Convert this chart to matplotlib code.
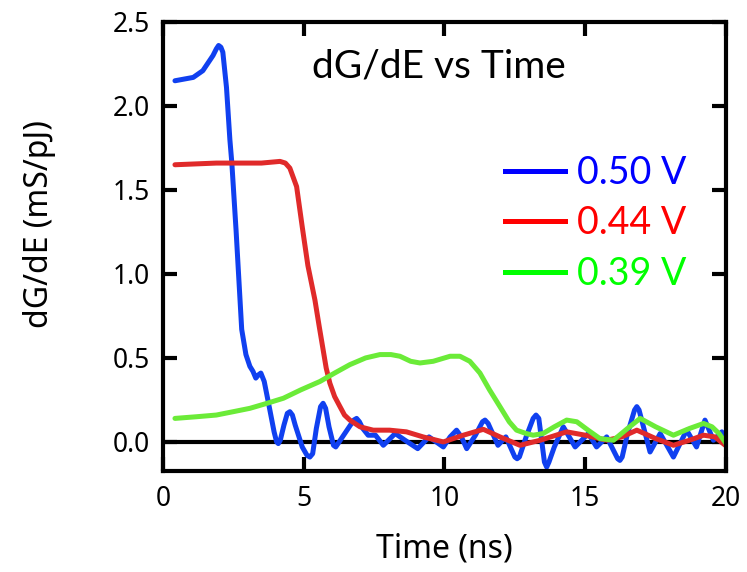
import matplotlib.pyplot as plt
from matplotlib.lines import Line2D

# values
t_050 = [0.43, 1.08, 1.42, 1.78, 1.9, 1.98, 2.06, 2.13, 2.26, 2.38, 2.45, 2.6, 2.8, 2.95,
         3.09, 3.2, 3.3, 3.4, 3.48, 3.6, 3.8, 3.95, 4.04, 4.1, 4.17, 4.3, 4.42, 4.51, 4.6,
         4.7, 4.95, 5.12, 5.22, 5.32, 5.45, 5.6, 5.69, 5.78, 5.9, 6.06, 6.14, 6.22, 6.5,
         6.78, 6.88, 6.98, 7.1, 7.29, 7.55, 7.83, 8.25, 8.6, 9.05, 9.45, 9.96, 10.2, 10.43,
         10.6, 10.79, 11.1, 11.35, 11.44, 11.55, 11.9, 12.18, 12.5, 12.58, 12.66, 12.9,
         13.15, 13.25, 13.35, 13.55, 13.63, 13.71, 13.9, 14.22, 14.64, 15.11, 15.4, 15.76,
         16.15, 16.23, 16.31, 16.5, 16.75, 16.83, 16.91, 17.3, 17.66, 18.13, 18.6, 18.95,
         19.25, 19.55, 19.85, 20.0]
v_050 = [2.15, 2.17, 2.21, 2.30, 2.34, 2.36, 2.35, 2.32, 2.11, 1.80, 1.66, 1.26, 0.67, 0.52,
         0.45, 0.42, 0.38, 0.40, 0.41, 0.36, 0.19, 0.06, 0.0, -0.01, 0.01, 0.10, 0.17, 0.18,
         0.16, 0.10, -0.03, -0.08, -0.09, -0.07, 0.08, 0.21, 0.23, 0.20, 0.09, -0.02, -0.03,
         -0.01, 0.06, 0.13, 0.14, 0.12, 0.08, 0.04, 0.04, -0.02, 0.05, 0.01, -0.04, 0.03,
         -0.03, 0.03, 0.07, 0.03, -0.04, 0.04, 0.12, 0.13, 0.11, -0.02, 0.03, -0.09, -0.10,
         -0.09, 0.03, 0.14, 0.16, 0.14, -0.12, -0.15, -0.12, -0.03, 0.09, -0.03, 0.05,
         -0.03, 0.03, -0.10, -0.11, -0.09, 0.05, 0.19, 0.21, 0.19, -0.06, 0.05, -0.09, 0.07,
         -0.03, 0.13, 0.01, 0.06, 0.0]

t_044 = [0.43, 1.9, 3.5, 4.16, 4.35, 4.51, 4.75, 4.95, 5.15, 5.4, 5.55, 5.69, 5.8, 5.93,
         6.1, 6.29, 6.45, 6.64, 7.0, 7.47, 8.05, 8.65, 9.24, 9.96, 10.67, 11.38, 11.97,
         12.68, 13.4, 14.34, 15.0, 15.76, 16.3, 16.83, 17.5, 18.13, 18.7, 19.2, 19.6, 19.97]
v_044 = [1.65, 1.66, 1.66, 1.67, 1.66, 1.63, 1.52, 1.28, 1.05, 0.845, 0.69, 0.55, 0.44, 0.35,
         0.27, 0.21, 0.16, 0.13, 0.09, 0.07, 0.07, 0.06, 0.03, 0.0, 0.04, 0.075, 0.03,
         -0.02, 0.01, 0.06, 0.04, 0.01, 0.03, 0.07, 0.02, -0.02, 0.01, 0.04, 0.03, -0.02]

t_039 = [0.43, 1.2, 1.9, 2.5, 3.09, 3.7, 4.28, 4.9, 5.58, 6.1, 6.64, 7.2, 7.71, 8.1, 8.42,
         8.8, 9.13, 9.6, 10.2, 10.55, 10.9, 11.26, 11.6, 11.97, 12.3, 12.56, 12.9, 13.15,
         13.5, 13.9, 14.34, 14.7, 15.1, 15.52, 16.0, 16.5, 16.95, 17.5, 18.13, 18.7, 19.2,
         19.5, 19.75, 20.0]
v_039 = [0.14, 0.15, 0.16, 0.18, 0.20, 0.23, 0.26, 0.31, 0.36, 0.41, 0.46, 0.50, 0.52, 0.52,
         0.51, 0.48, 0.47, 0.48, 0.51, 0.51, 0.48, 0.41, 0.31, 0.21, 0.12, 0.07, 0.05, 0.04,
         0.05, 0.09, 0.13, 0.12, 0.07, 0.02, 0.01, 0.08, 0.14, 0.09, 0.04, 0.08, 0.11,
         0.09, 0.05, -0.01]

labels = ['0.50 V', '0.44 V', '0.39 V']
line_colors = ['#1040F0', '#E02A2A', '#6BEB38']
legend_colors = ['#0000FF', '#FF0000', '#00FF00']
x_ticks = [0, 5, 10, 15, 20]
y_ticks = [0.0, 0.5, 1.0, 1.5, 2.0, 2.5]

fig = plt.figure(figsize=(7.47, 5.72), dpi=100)
ax = fig.add_axes([0.218, 0.1766, 0.754, 0.785])

ax.axhline(0, color='black', lw=3, zorder=1)
for t, v, c in zip([t_050, t_044, t_039], [v_050, v_044, v_039], line_colors):
    ax.plot(t, v, color=c, lw=3.6, solid_joinstyle='round', solid_capstyle='round', zorder=2)

ax.set_xlim(0, 20)
ax.set_ylim(-0.173, 2.5)
ax.set_xticks(x_ticks)
ax.set_yticks(y_ticks)
ax.set_yticklabels([f'{y:.1f}' for y in y_ticks])
ax.tick_params(direction='in', length=10, width=3, top=True, right=True,
               labelsize=19, pad=9)
ax.tick_params(axis='x', pad=10)
for lab in ax.get_xticklabels() + ax.get_yticklabels():
    lab.set_fontfamily('Noto Sans')
for s in ax.spines.values():
    s.set_linewidth(3)

ax.set_xlabel('Time (ns)', fontsize=23, family='Noto Sans', labelpad=14)
ax.set_ylabel('dG/dE (mS/pJ)', fontsize=23, family='Noto Sans')
ax.yaxis.set_label_coords(-0.19, 0.55)

ax.text(0.49, 0.90, 'dG/dE vs Time', transform=ax.transAxes, ha='center', va='center',
        fontsize=28, family='Lato')

handles = [Line2D([], [], color=c, lw=3.6) for c in legend_colors]
leg = ax.legend(handles, labels, loc='upper left', bbox_to_anchor=(0.575, 0.745),
                frameon=False, prop={'family': 'Lato', 'size': 27},
                handlelength=1.6, handletextpad=0.3, labelspacing=0.38, borderpad=0)
for txt, c in zip(leg.get_texts(), legend_colors):
    txt.set_color(c)

fig.savefig('out.png', dpi=100)
